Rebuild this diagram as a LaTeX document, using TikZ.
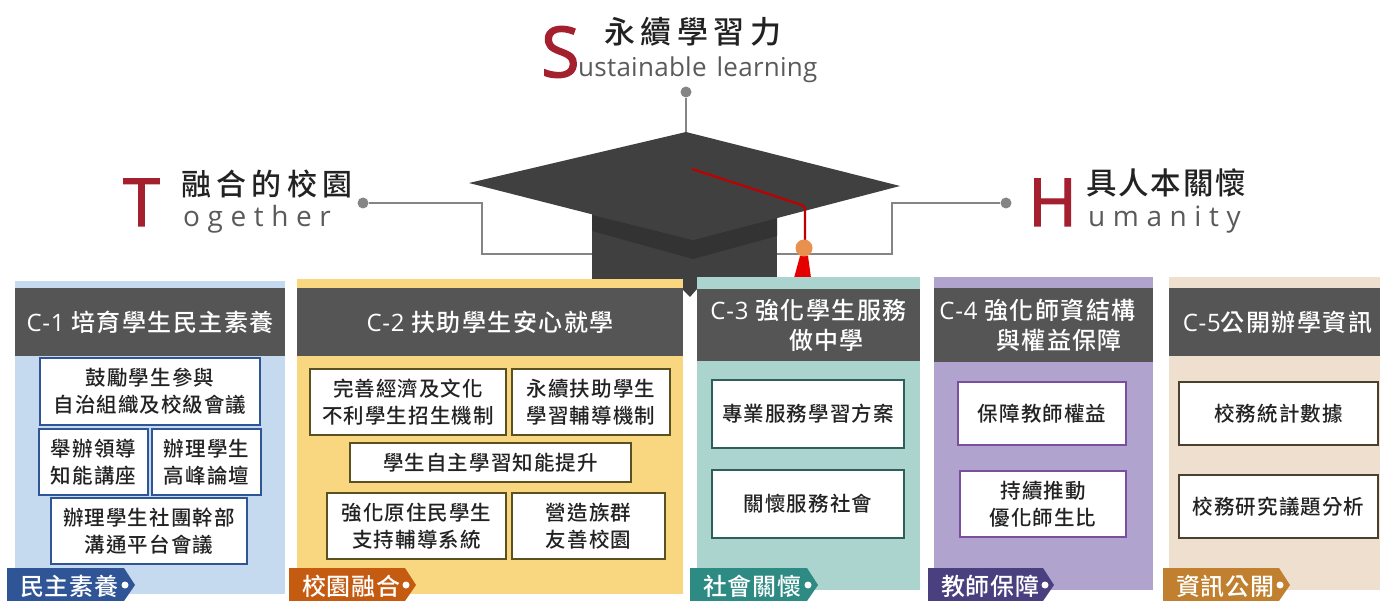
\documentclass[tikz,border=0pt]{standalone}
\usepackage{fontspec}
\setmainfont{Open Sans}
\newfontfamily\semi[FakeBold=2]{Open Sans}
\newfontfamily\cjk[LetterSpace=5]{Noto Sans CJK TC Medium}
\newfontfamily\cjkw[LetterSpace=18]{Noto Sans CJK TC Medium}
\newfontfamily\cjkv[LetterSpace=6]{Noto Sans CJK TC Medium}
\newfontfamily\cjkm[LetterSpace=6]{Noto Sans CJK TC Medium}
\newfontfamily\cjkt[LetterSpace=3]{Noto Sans CJK TC Medium}
\newfontfamily\latw[LetterSpace=27]{Open Sans}
\newfontfamily\lats[LetterSpace=3]{Open Sans}
\newfontfamily\latn[LetterSpace=1]{Open Sans}
\usetikzlibrary{calc}
\definecolor{hdr}{HTML}{555555}
\definecolor{capc}{HTML}{404040}
\definecolor{band}{HTML}{333333}
\definecolor{linec}{HTML}{858585}
\definecolor{redt}{HTML}{A5202E}
\definecolor{ink}{HTML}{222222}
\definecolor{lat}{HTML}{5A5A5A}
\definecolor{orb}{HTML}{E8914F}
\definecolor{pa}{HTML}{C5DAEE}\definecolor{pb}{HTML}{F9D680}\definecolor{pc}{HTML}{ABD4CF}\definecolor{pd}{HTML}{B0A4CF}\definecolor{pe}{HTML}{EEDFCF}
\definecolor{ba}{HTML}{2F5597}\definecolor{bb}{HTML}{5B5020}\definecolor{bc}{HTML}{2F5F5A}\definecolor{bd}{HTML}{7A4FA0}\definecolor{be}{HTML}{4A4030}
\definecolor{ta}{HTML}{2F5597}\definecolor{tb}{HTML}{C55A11}\definecolor{tc}{HTML}{2E8B84}\definecolor{td}{HTML}{4A3F7F}\definecolor{te}{HTML}{C08030}
\tikzset{
  x=1pt,y=-1pt,
  itembox/.style={draw=#1,line width=1.3pt,fill=white,inner sep=0pt,align=center,text=ink,font=\cjk\fontsize{20.5}{27}\selectfont},
  headbox/.style={fill=hdr,inner sep=0pt,align=center,text=white,font=\cjkm\fontsize{24}{30}\selectfont},
  panel/.style={fill=#1,inner sep=0pt},
  tagtext/.style={text=white,inner sep=0pt,anchor=west,font=\cjkt\fontsize{24}{28}\selectfont},
  tagdot/.style={circle,fill=white,inner sep=0pt,minimum size=7pt},
  pin/.style={circle,fill=linec,inner sep=0pt,minimum size=11pt},
  conn/.style={draw=linec,line width=1.5pt},
  big/.style={text=redt,inner sep=0pt,anchor=base west,font=\semi\fontsize{66}{68}\selectfont},
  cntitle/.style={text=ink,inner sep=0pt,anchor=west,font=\cjkw\fontsize{30}{32}\selectfont},
  entitle/.style={text=lat,inner sep=0pt,anchor=base west,font=\latw\fontsize{28}{28}\selectfont},
}
\newcommand{\rbox}[7]{\node[#6,minimum width={(#4-#2)*1pt},minimum height={(#5-#3)*1pt}] (#1) at ({(#2+#4)/2},{(#3+#5)/2}) {#7};}
\newcommand{\panelbox}[6]{\node[panel=#6,minimum width={(#4-#2)*1pt},minimum height={(#5-#3)*1pt}] (#1) at ({(#2+#4)/2},{(#3+#5)/2}) {};}
\newcommand{\tagshape}[4]{\fill[#4] (#2,568) -- (#3-11,568) -- (#3,585) -- (#3-11,601) -- (#2,601) -- cycle;}
\newcommand{\C}[1]{{\lats #1}}
\begin{document}
\begin{tikzpicture}
\useasboundingbox (0,0) rectangle (1380,601);
% connectors
\node[pin] (pinS) at (686,92) {};
\node[pin] (pinT) at (363,203) {};
\node[pin] (pinH) at (1006,203) {};
\coordinate (capTop) at (686,132);
\coordinate (bodyL) at (592,254);
\coordinate (bodyR) at (777,254);
\draw[conn] (pinS) -- (capTop);
\draw[conn] (pinT) -- (482,203) -- (482,254) -- (bodyL);
\draw[conn] (pinH) -- (892,203) -- (892,254) -- (bodyR);
% cap
\fill[capc] (592,210) -- (777,210) -- (777,282) -- (592,282) -- cycle;
\fill[capc] (682,270) -- (697,270) -- (697,289) -- (690,297) -- (682,289) -- cycle;
\fill[band] (592,215) -- (693,240) -- (777,218) -- (777,236) -- (693,259) -- (592,231) -- cycle;
\fill[capc] (capTop) -- (900,186) -- (693,240) -- (469,183) -- cycle;
% tassel
\fill[red!90!black] (800,256) -- (808,256) -- (811,278) -- (794,278) -- cycle;
\draw[red!75!black,line width=2.2pt] (692,169) -- (802,205) -- (805,208) -- (805,241);
\fill[orb] (804,248) circle (8.5);
% titles
\node[big] (S) at (541,77) {\fontsize{70}{72}\selectfont S};
\node[cntitle,font=\cjkw\fontsize{31}{32}\selectfont] (st) at (604,32) {永續學習力};
\node[inner sep=0pt,anchor=base west,text=lat,font=\latn\fontsize{26}{28}\selectfont] (se) at (578,77) {ustainable\hspace{3pt} learning};
\node[big] (T) at (123,226) {T};
\node[cntitle] (tt) at (181,184) {融合的校園};
\node[entitle] (te) at (183,227) {ogether};
\node[big] (H) at (1028,226) {H};
\node[cntitle,font=\cjkv\fontsize{30.5}{32}\selectfont] (ht) at (1086,183) {具人本關懷};
\node[entitle] (he) at (1088,227) {umanity};
% panels
\panelbox{p1}{15}{281}{285}{594}{pa}
\panelbox{p2}{297}{279}{683}{594}{pb}
\panelbox{p3}{697}{277}{920}{590}{pc}
\panelbox{p4}{934}{277}{1153}{590}{pd}
\panelbox{p5}{1169}{277}{1380}{590}{pe}
% headers
\rbox{h1}{15}{288}{285}{356}{headbox}{\C{C-1} 培育學生民主素養}
\rbox{h2}{297}{288}{683}{356}{headbox}{\C{C-2} 扶助學生安心就學}
\rbox{h3}{697}{289}{920}{361}{headbox}{\C{C-3} 強化學生服務\\\hspace*{36pt}做中學}
\rbox{h4}{934}{288}{1153}{362}{headbox}{\C{C-4} 強化師資結構\hspace*{12pt}\\\hspace*{31pt}與權益保障}
\rbox{h5}{1169}{288}{1380}{356}{headbox}{\hspace*{6pt}\C{C-5}公開辦學資訊}
% C-1
\rbox{a1}{40}{358}{260}{425}{itembox=ba}{鼓勵學生參與\\自治組織及校級會議}
\rbox{a2}{39}{429}{148}{495}{itembox=ba}{舉辦領導\\知能講座}
\rbox{a3}{152}{429}{261}{495}{itembox=ba}{辦理學生\\高峰論壇}
\rbox{a4}{51}{498}{247}{564}{itembox=ba}{辦理學生社團幹部\\溝通平台會議}
% C-2
\rbox{b1}{310}{369}{506}{435}{itembox=bb}{完善經濟及文化\\不利學生招生機制}
\rbox{b2}{512}{369}{670}{435}{itembox=bb}{永續扶助學生\\學習輔導機制}
\rbox{b3}{350}{443}{631}{482}{itembox=bb}{學生自主學習知能提升}
\rbox{b4}{327}{493}{506}{559}{itembox=bb}{強化原住民學生\\支持輔導系統}
\rbox{b5}{512}{493}{665}{559}{itembox=bb}{營造族群\\友善校園}
% C-3
\rbox{c1}{712}{380}{904}{448}{itembox=bc}{專業服務學習方案}
\rbox{c2}{712}{470}{904}{538}{itembox=bc}{關懷服務社會}
% C-4
\rbox{d1}{958}{382}{1126}{445}{itembox=bd}{保障教師權益}
\rbox{d2}{960}{471}{1126}{537}{itembox=bd}{持續推動\\優化師生比}
% C-5
\rbox{e1}{1179}{382}{1378}{445}{itembox=be}{校務統計數據}
\rbox{e2}{1179}{475}{1378}{538}{itembox=be}{校務研究議題分析}
% tags
\tagshape{t1}{7}{135}{ta}
\tagshape{t2}{289}{416}{tb}
\tagshape{t3}{690}{818}{tc}
\tagshape{t4}{928}{1054}{td}
\tagshape{t5}{1163}{1290}{te}
\node[tagtext] (t1l) at (20,586) {民主素養};
\node[tagtext] (t2l) at (302,586) {校園融合};
\node[tagtext] (t3l) at (703,586) {社會關懷};
\node[tagtext] (t4l) at (941,586) {教師保障};
\node[tagtext] (t5l) at (1176,586) {資訊公開};
\node[tagdot] (t1d) at (125,585) {};
\node[tagdot] (t2d) at (406,585) {};
\node[tagdot] (t3d) at (808,585) {};
\node[tagdot] (t4d) at (1045,585) {};
\node[tagdot] (t5d) at (1280,585) {};
\end{tikzpicture}
\end{document}
